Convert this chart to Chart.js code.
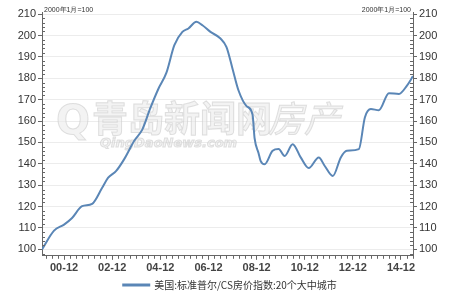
<!DOCTYPE html>
<html>
<head>
<meta charset="utf-8">
<script src="https://cdn.jsdelivr.net/npm/chart.js@4/dist/chart.umd.min.js"></script>
<style>
html,body{margin:0;padding:0;background:#fff;}
#wrap{width:460px;height:300px;}
</style>
</head>
<body>
<div id="wrap"><canvas id="c" width="460" height="300"></canvas></div>
<script>
// months since Jan 2000 (0 = 2000-01)
const months = [0,6,11,15,20,25,30,33,37,41,46,50,54,58,62,66,70,73,77,80,84,89,92,95,98,102,105,106,108,109,111,115,118,121,125,129,133,138,141,145,149,152,158,161,164,168,173,178,182,185];
const indexValues = [100,108.8,111.6,114.7,120.2,121.3,128.8,133.5,136.7,142.2,150.8,156,166,175,182.5,195.5,201.7,203.3,206.4,204.8,201.7,198.6,194.6,184.5,174.3,167,163,152,145,141.4,139.8,146.1,146.9,143.7,149.2,143,138,143,139,134.3,143,146.1,146.9,161.7,165.6,165.1,173,172.7,176.6,181];
const xTickMonths = [11,35,59,83,107,131,155,179];
const xTickLabels = ['00-12','02-12','04-12','06-12','08-12','10-12','12-12','14-12'];
const yTicks = [100,110,120,130,140,150,160,170,180,190,200,210];
const seriesName = '美国:标准普尔/CS房价指数:20个大中城市';
const baseNote = '2000年1月=100';

const lineColor = '#5a86b6';
const axisColor = '#666';

const extras = {
  id: 'extras',
  beforeDatasetsDraw(chart) {
    const ctx = chart.ctx;
    // faint watermark
    ctx.save();
    ctx.fillStyle = 'rgba(235,235,235,0.6)';
    ctx.strokeStyle = 'rgba(200,200,200,0.55)';
    ctx.lineWidth = 1;
    ctx.textBaseline = 'middle';
    ctx.textAlign = 'left';
    ctx.font = 'bold 36px "Noto Sans CJK SC"';
    ctx.fillText('青岛新闻网', 92, 118);
    ctx.strokeText('青岛新闻网', 92, 118);
    ctx.font = 'italic 36px "Noto Sans CJK SC"';
    ctx.fillText('房产', 268, 118);
    ctx.strokeText('房产', 268, 118);
    ctx.font = 'italic bold 13px "DejaVu Sans"';
    ctx.fillText('QingDaoNews.com', 100, 144);
    ctx.strokeText('QingDaoNews.com', 100, 144);
    ctx.font = 'bold 40px "DejaVu Sans"';
    ctx.fillText('Q', 56, 124);
    ctx.strokeText('Q', 56, 124);
    ctx.restore();
  },
  afterDraw(chart) {
    const ctx = chart.ctx, a = chart.chartArea;
    const y = chart.scales.y, x = chart.scales.x;
    ctx.save();
    ctx.strokeStyle = axisColor;
    ctx.lineWidth = 1;
    ctx.beginPath();
    // minor y ticks every 2 units, inside
    for (let v = 98; v <= 210; v += 2) {
      if (v % 10 === 0) continue;
      const py = Math.round(y.getPixelForValue(v)) + 0.5;
      ctx.moveTo(a.left, py); ctx.lineTo(a.left + 3, py);
      ctx.moveTo(a.right, py); ctx.lineTo(a.right - 3, py);
    }
    // minor x ticks every 3 months, outside
    for (let m = 2; m <= 185; m += 3) {
      if (xTickMonths.includes(m)) continue;
      const px = Math.round(x.getPixelForValue(m)) + 0.5;
      ctx.moveTo(px, a.bottom); ctx.lineTo(px, a.bottom + 3);
    }
    ctx.stroke();
    // base notes
    ctx.fillStyle = '#333';
    ctx.font = '7px "Liberation Sans"';
    ctx.textBaseline = 'middle';
    ctx.textAlign = 'left';
    ctx.fillText(baseNote, a.left + 2, a.top - 2);
    ctx.textAlign = 'right';
    ctx.fillText(baseNote, a.right - 2, a.top - 2);
    ctx.restore();
  }
};

new Chart(document.getElementById('c'), {
  type: 'line',
  data: {
    datasets: [{
      label: seriesName,
      data: months.map((m, i) => ({x: m, y: indexValues[i]})),
      borderColor: lineColor,
      backgroundColor: lineColor,
      borderWidth: 2,
      pointRadius: 0,
      cubicInterpolationMode: 'monotone',
      fill: false
    }]
  },
  options: {
    responsive: false,
    animation: false,
    devicePixelRatio: 1,
    layout: {padding: {left: 0, right: 0, top: 12, bottom: 0}},
    plugins: {
      legend: {
        display: true,
        position: 'bottom',
        labels: {
          boxWidth: 26,
          boxHeight: 1,
          color: '#333',
          padding: 3,
          font: {family: '"Noto Sans CJK SC"', size: 10}
        }
      },
      tooltip: {enabled: false}
    },
    scales: {
      x: {
        type: 'linear',
        min: 0,
        max: 185,
        afterBuildTicks(s) { s.ticks = xTickMonths.map(v => ({value: v})); },
        ticks: {
          autoSkip: false,
          maxRotation: 0,
          padding: 2,
          color: '#444',
          font: {family: '"Liberation Sans"', size: 11, weight: 'bold'},
          callback(v) { const i = xTickMonths.indexOf(v); return i >= 0 ? xTickLabels[i] : ''; }
        },
        grid: {drawOnChartArea: false, drawTicks: true, tickLength: 4, color: axisColor},
        border: {display: true, color: axisColor}
      },
      y: {
        position: 'left',
        min: 97,
        max: 211,
        afterBuildTicks(s) { s.ticks = yTicks.map(v => ({value: v})); },
        afterFit(s) { s.width = 42; },
        ticks: {
          padding: 2,
          color: '#333',
          font: {family: '"Liberation Sans"', size: 11}
        },
        grid: {color: '#ececec', tickColor: axisColor, tickLength: 4, drawTicks: true},
        border: {display: true, color: axisColor}
      },
      y2: {
        position: 'right',
        min: 97,
        max: 211,
        afterBuildTicks(s) { s.ticks = yTicks.map(v => ({value: v})); },
        afterFit(s) { s.width = 47; },
        ticks: {
          padding: 2,
          color: '#333',
          font: {family: '"Liberation Sans"', size: 11}
        },
        grid: {drawOnChartArea: false, tickColor: axisColor, tickLength: 4, drawTicks: true},
        border: {display: true, color: axisColor}
      }
    }
  },
  plugins: [extras]
});
</script>
</body>
</html>
